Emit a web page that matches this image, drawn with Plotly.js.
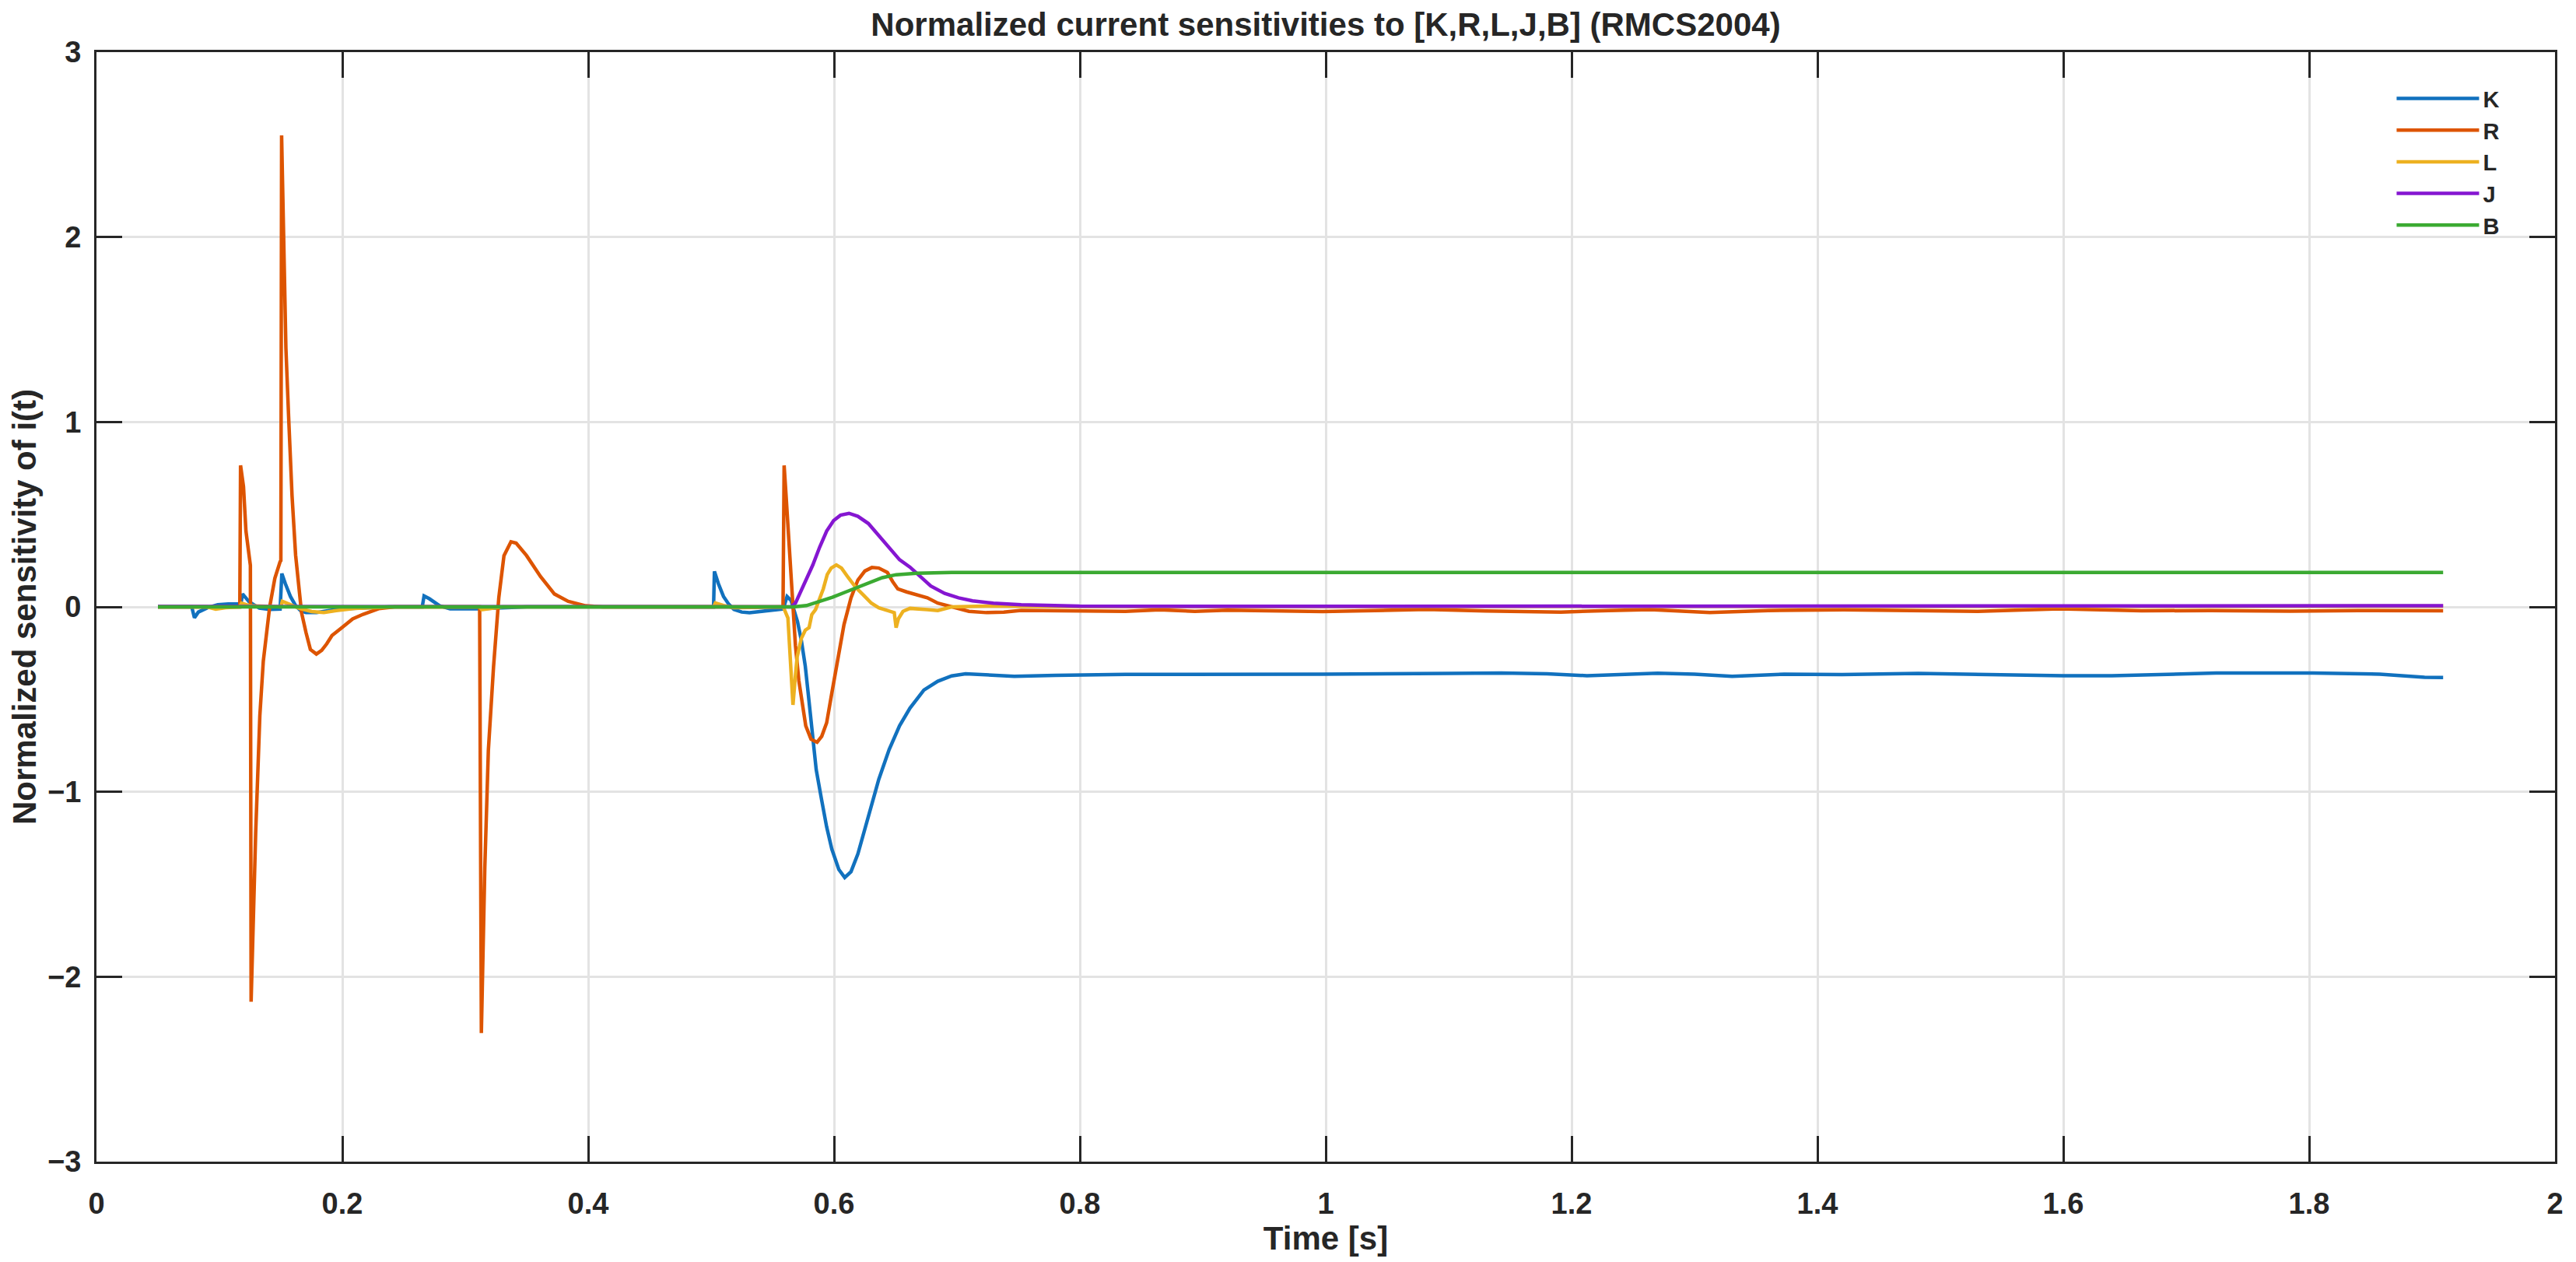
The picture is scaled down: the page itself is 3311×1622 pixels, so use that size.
<!DOCTYPE html>
<html>
<head>
<meta charset="utf-8">
<script src="https://cdn.plot.ly/plotly-3.0.1.min.js"></script>
<style>
  html, body { margin: 0; padding: 0; background: #fff; }
  #graph { width: 3311px; height: 1622px; }
</style>
</head>
<body>
<div id="graph"></div>
<script>
/* ---------------- data: [time s, sensitivity] ---------------- */

var seriesNames = ['K', 'R', 'L', 'J', 'B'];
var seriesColors = ['#1171BE', '#DD5400', '#EDB120', '#8516D1', '#3BAA32'];

var K_pts = [
    [0.050, 0], [0.0775, 0], [0.0797, -0.059], [0.0829, -0.028], [0.0903, -0.005],
    [0.0987, 0.012], [0.1072, 0.016], [0.1156, 0.015], [0.1175, 0.017], [0.1188, 0.070],
    [0.1241, 0.028], [0.1325, -0.007], [0.1409, -0.014], [0.1494, -0.012], [0.1508, 0.180],
    [0.1536, 0.126], [0.1578, 0.056], [0.1620, 0.007], [0.1662, -0.021], [0.1705, -0.031],
    [0.1789, -0.031], [0.1873, -0.022], [0.1958, -0.014], [0.2084, -0.008], [0.2211, -0.003],
    [0.2380, 0], [0.2650, 0], [0.2665, 0.059], [0.2708, 0.044], [0.2792, 0.006],
    [0.2877, -0.010], [0.3100, -0.010], [0.3300, -0.005], [0.3500, 0], [0.5020, 0],
    [0.5027, 0.192], [0.5059, 0.126], [0.5101, 0.056], [0.5144, 0.014], [0.5186, -0.014],
    [0.5249, -0.028], [0.5312, -0.031], [0.5397, -0.025], [0.5481, -0.017], [0.5587, -0.011],
    [0.5618, 0.056], [0.5650, 0.035], [0.5671, -0.010], [0.5703, -0.080], [0.5734, -0.180],
    [0.5766, -0.320], [0.5787, -0.450], [0.5827, -0.690], [0.5855, -0.880], [0.5898, -1.040],
    [0.5940, -1.190], [0.5982, -1.310], [0.6039, -1.420], [0.6087, -1.464], [0.6138, -1.432],
    [0.6194, -1.336], [0.6279, -1.126], [0.6364, -0.933], [0.6448, -0.772], [0.6533, -0.643],
    [0.6618, -0.547], [0.6731, -0.450], [0.6844, -0.402], [0.6957, -0.373], [0.7070, -0.362],
    [0.7183, -0.367], [0.7466, -0.375], [0.7804, -0.370], [0.8370, -0.365], [0.9975, -0.364],
    [1.0500, -0.364], [1.1000, -0.360], [1.1428, -0.358], [1.1800, -0.362], [1.2125, -0.372],
    [1.2400, -0.364], [1.2700, -0.359], [1.3000, -0.364], [1.3306, -0.376], [1.3730, -0.364],
    [1.4200, -0.366], [1.4820, -0.360], [1.5425, -0.368], [1.6000, -0.372], [1.6395, -0.372],
    [1.7243, -0.358], [1.8030, -0.358], [1.8575, -0.364], [1.8939, -0.381], [1.9090, -0.382]
];

var R_pts = [
    [0.050, 0], [0.1166, 0], [0.1172, 0.765], [0.1196, 0.650], [0.1216, 0.410],
    [0.1238, 0.315], [0.1252, 0.224], [0.1258, -2.135], [0.1295, -1.226], [0.1329, -0.588],
    [0.1357, -0.294], [0.1409, 0], [0.1451, 0.154], [0.1494, 0.245], [0.1500, 0.250],
    [0.1506, 2.550], [0.1521, 1.967], [0.1541, 1.400], [0.1563, 1.030], [0.1591, 0.600],
    [0.1620, 0.280], [0.1648, 0.080], [0.1668, -0.030], [0.1705, -0.140], [0.1740, -0.230],
    [0.1789, -0.255], [0.1832, -0.235], [0.1873, -0.200], [0.1916, -0.155], [0.2000, -0.110],
    [0.2084, -0.065], [0.2169, -0.040], [0.2295, -0.010], [0.2425, 0], [0.3117, 0],
    [0.3131, -2.305], [0.3159, -1.414], [0.3188, -0.776], [0.3230, -0.325], [0.3273, 0.050],
    [0.3315, 0.277], [0.3372, 0.352], [0.3414, 0.345], [0.3499, 0.277], [0.3612, 0.164],
    [0.3725, 0.070], [0.3838, 0.030], [0.3979, 0.006], [0.4120, 0], [0.5585, 0],
    [0.5594, 0.765], [0.5610, 0.600], [0.5635, 0.350], [0.5660, 0.120], [0.5686, -0.209],
    [0.5714, -0.400], [0.5742, -0.531], [0.5770, -0.643], [0.5813, -0.716], [0.5862, -0.732],
    [0.5900, -0.700], [0.5940, -0.627], [0.5982, -0.466], [0.6025, -0.305], [0.6081, -0.096],
    [0.6138, 0.049], [0.6194, 0.145], [0.6251, 0.194], [0.6308, 0.213], [0.6364, 0.210],
    [0.6434, 0.186], [0.6477, 0.137], [0.6519, 0.097], [0.6590, 0.081], [0.6674, 0.065],
    [0.6759, 0.049], [0.6844, 0.020], [0.6957, 0], [0.7098, -0.024], [0.7240, -0.031],
    [0.7381, -0.028], [0.7522, -0.019], [0.7800, -0.020], [0.8000, -0.018], [0.8370, -0.024],
    [0.8650, -0.016], [0.8935, -0.024], [0.9200, -0.018], [0.9500, -0.020], [0.9975, -0.025],
    [1.0400, -0.020], [1.0822, -0.014], [1.1300, -0.022], [1.1913, -0.028], [1.2300, -0.020],
    [1.2640, -0.015], [1.3124, -0.031], [1.3600, -0.020], [1.4215, -0.016], [1.4800, -0.022],
    [1.5304, -0.024], [1.5970, -0.010], [1.6637, -0.021], [1.7200, -0.020], [1.7848, -0.023],
    [1.8400, -0.020], [1.9090, -0.021]
];

var L_pts = [
    [0.050, 0], [0.090, 0], [0.097, -0.012], [0.105, -0.004], [0.1166, 0],
    [0.118, 0.020], [0.125, 0.006], [0.140, 0], [0.1500, 0], [0.1512, 0.030],
    [0.158, 0.012], [0.165, -0.008], [0.175, -0.025], [0.185, -0.030], [0.195, -0.020],
    [0.210, -0.008], [0.240, 0], [0.3117, 0], [0.3135, -0.015], [0.320, -0.010],
    [0.330, 0], [0.5020, 0], [0.5035, 0.021], [0.510, 0.008], [0.518, -0.004],
    [0.535, -0.003], [0.5587, 0], [0.5625, -0.060], [0.5650, -0.400], [0.5666, -0.530],
    [0.5686, -0.370], [0.5700, -0.270], [0.5734, -0.170], [0.5766, -0.126], [0.5797, -0.112],
    [0.5819, -0.042], [0.5850, -0.014], [0.5882, 0.042], [0.5913, 0.098], [0.5945, 0.175],
    [0.5977, 0.210], [0.6019, 0.227], [0.6061, 0.210], [0.6114, 0.160], [0.6177, 0.105],
    [0.6241, 0.063], [0.6304, 0.020], [0.6364, -0.005], [0.6434, -0.020], [0.6490, -0.031],
    [0.6505, -0.112], [0.6524, -0.064], [0.6561, -0.024], [0.6618, -0.008], [0.6759, -0.015],
    [0.6844, -0.020], [0.6957, 0], [0.7240, 0.004], [0.8000, 0.002], [1.0000, 0.003],
    [1.2000, 0.002], [1.4000, 0.004], [1.6000, 0.003], [1.8000, 0.004], [1.9090, 0.004]
];

var J_pts = [
    [0.050, 0.002], [0.300, 0], [0.5650, 0], [0.5686, 0.020], [0.5714, 0.060],
    [0.5770, 0.140], [0.5827, 0.226], [0.5883, 0.323], [0.5940, 0.410], [0.5997, 0.467],
    [0.6053, 0.496], [0.6122, 0.506], [0.6194, 0.490], [0.6279, 0.451], [0.6364, 0.387],
    [0.6448, 0.323], [0.6533, 0.255], [0.6618, 0.215], [0.6674, 0.182], [0.6730, 0.145],
    [0.6787, 0.113], [0.6900, 0.073], [0.7013, 0.049], [0.7127, 0.033], [0.7296, 0.020],
    [0.7522, 0.012], [0.7997, 0.004], [1.0000, 0.003], [1.4000, 0.003], [1.8000, 0.004],
    [1.9090, 0.006]
];

var B_pts = [
    [0.050, 0], [0.5670, 0], [0.5776, 0.007], [0.5882, 0.028], [0.5987, 0.052],
    [0.6093, 0.080], [0.6199, 0.108], [0.6279, 0.133], [0.6392, 0.158], [0.6505, 0.174],
    [0.6674, 0.182], [0.6957, 0.186], [0.8000, 0.186], [1.0000, 0.184], [1.2000, 0.184],
    [1.4000, 0.185], [1.6000, 0.186], [1.8000, 0.186], [1.9090, 0.186]
];

var allPts = [K_pts, R_pts, L_pts, J_pts, B_pts];

/* ---------------- traces ---------------- */

var data = allPts.map(function(pts, i) {
    return {
        x: pts.map(function(p) { return p[0]; }),
        y: pts.map(function(p) { return p[1]; }),
        mode: 'lines',
        name: seriesNames[i],
        line: { color: seriesColors[i], width: 4.5 }
    };
});

/* ---------------- layout ---------------- */

var ink = '#262626';
var fontFamily = '"Liberation Sans", Arial, Helvetica, sans-serif';

var axisStyle = {
    showline: true,
    linecolor: ink,
    linewidth: 3,
    mirror: 'ticks',
    ticks: 'inside',
    ticklen: 33,
    tickwidth: 3,
    tickcolor: ink,
    showgrid: true,
    gridcolor: '#e3e3e3',
    gridwidth: 3,
    zeroline: false,
    automargin: false,
    tickfont: { family: fontFamily, size: 38, color: ink, weight: 'bold' }
};

var layout = {
    width: 3311,
    height: 1622,
    paper_bgcolor: '#ffffff',
    plot_bgcolor: '#ffffff',
    margin: { l: 124, r: 27, t: 67, b: 129 },
    font: { family: fontFamily, color: ink },
    title: {
        text: 'Normalized current sensitivities to [K,R,L,J,B] (RMCS2004)',
        font: { family: fontFamily, size: 42, color: ink, weight: 'bold' },
        x: 0.5,
        xref: 'paper',
        y: 1 - 31 / 1622,
        yref: 'container',
        yanchor: 'middle'
    },
    xaxis: Object.assign({}, axisStyle, {
        range: [0, 2],
        dtick: 0.2,
        tick0: 0,
        ticklabelstandoff: 18,
        title: {
            text: 'Time [s]',
            font: { family: fontFamily, size: 42, color: ink, weight: 'bold' },
            standoff: 10
        }
    }),
    yaxis: Object.assign({}, axisStyle, {
        range: [-3, 3],
        dtick: 1,
        tick0: 0,
        ticklabelstandoff: 9,
        title: {
            text: 'Normalized sensitivity of i(t)',
            font: { family: fontFamily, size: 42, color: ink, weight: 'bold' },
            standoff: 2
        }
    }),
    showlegend: true,
    legend: {
        x: 0.934,
        xanchor: 'left',
        y: 0.901,
        yanchor: 'middle',
        bgcolor: 'rgba(0,0,0,0)',
        borderwidth: 0,
        itemwidth: 106,
        font: { family: fontFamily, size: 29, color: ink, weight: 'bold' }
    }
};

var graph = document.getElementById('graph');
Plotly.newPlot(graph, data, layout, { staticPlot: true, displayModeBar: false });
</script>
</body>
</html>
